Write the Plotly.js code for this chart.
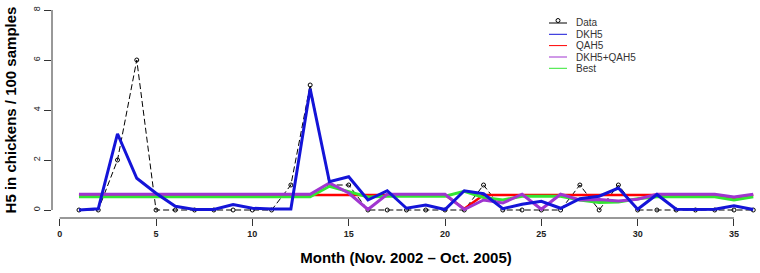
<!DOCTYPE html>
<html>
<head>
<meta charset="utf-8">
<script src="https://cdn.plot.ly/plotly-3.0.1.min.js"></script>
<style>html,body{margin:0;padding:0;background:#fff;}#chart{width:760px;height:273px;}</style>
</head>
<body>
<div id="chart"></div>
<script>
// ---- data ----
var months = [1,2,3,4,5,6,7,8,9,10,11,12,13,14,15,16,17,18,19,20,21,22,23,24,25,26,27,28,29,30,31,32,33,34,35,36];
var dataObs = [0,0,2,6,0,0,0,0,0,0,0,1,5,1,1,0,0,0,0,0,0,1,0,0,0,0,1,0,1,0,0,0,0,0,0,0];
var dkh5 = [0,0.05,3.05,1.27,0.67,0.15,0.02,0.02,0.22,0.07,0.04,0.04,4.85,1.13,1.33,0.4,0.77,0.07,0.2,0.02,0.77,0.65,0.05,0.23,0.35,0.07,0.45,0.55,0.88,0.03,0.62,0.03,0.02,0.03,0.17,0.02];
var qah5 = [0.6,0.6,0.6,0.6,0.6,0.6,0.6,0.6,0.6,0.6,0.6,0.6,0.6,0.6,0.6,0.6,0.6,0.6,0.6,0.6,0.05,0.6,0.6,0.6,0.6,0.6,0.6,0.6,0.6,0.6,0.6,0.6,0.6,0.6,0.47,0.6];
var dkh5qah5 = [0.63,0.63,0.63,0.63,0.63,0.63,0.63,0.63,0.63,0.63,0.63,0.63,0.63,1.08,0.68,0.02,0.63,0.63,0.63,0.63,0.02,0.4,0.28,0.63,0.03,0.63,0.4,0.42,0.36,0.43,0.63,0.63,0.63,0.63,0.52,0.63];
var best = [0.53,0.53,0.53,0.53,0.53,0.53,0.53,0.53,0.53,0.53,0.53,0.53,0.53,0.95,0.72,0.52,0.55,0.55,0.55,0.55,0.75,0.5,0.4,0.55,0.55,0.55,0.4,0.3,0.32,0.45,0.53,0.53,0.53,0.53,0.4,0.53];
var xTicks = [0,5,10,15,20,25,30,35];
var yTicks = [0,2,4,6,8];
var seriesNames = ["Data","DKH5","QAH5","DKH5+QAH5","Best"];
var seriesColors = ["#000000","#1414d8","#ff0000","#a035d0","#33e633"];

var FONT = "Liberation Sans, Arial, sans-serif";

var traces = [
  {x: months, y: dataObs, name: seriesNames[0], mode: "lines+markers",
   line: {color: seriesColors[0], width: 1, dash: "6px,3px"},
   marker: {symbol: "circle-open", size: 4, color: "#000", line: {width: 1, color: "#000"}}},
  {x: months, y: qah5, name: seriesNames[2], mode: "lines", line: {color: seriesColors[2], width: 2.5}},
  {x: months, y: best, name: seriesNames[4], mode: "lines", line: {color: seriesColors[4], width: 3}},
  {x: months, y: dkh5qah5, name: seriesNames[3], mode: "lines", line: {color: seriesColors[3], width: 3}},
  {x: months, y: dkh5, name: seriesNames[1], mode: "lines", line: {color: seriesColors[1], width: 3}}
];

// manual R-style legend
var L = 52, PW = 708, T = 2, PH = 216;
function px2x(p){ return (p - L) / PW; }
function py2y(p){ return (T + PH - p) / PH; }
var shapes = [
  {type: "line", xref: "x", yref: "paper", x0: xTicks[0], x1: xTicks[xTicks.length-1], y0: 0, y1: 0, line: {color: "#333", width: 1}},
  {type: "line", xref: "paper", yref: "y", x0: 0, x1: 0, y0: yTicks[0], y1: yTicks[yTicks.length-1], line: {color: "#333", width: 1}}
];
var annotations = [];
var rowY = [23, 34.3, 45.6, 57, 68.3];
for (var i = 0; i < seriesNames.length; i++) {
  shapes.push({type: "line", xref: "paper", yref: "paper", x0: px2x(549), x1: px2x(567), y0: py2y(rowY[i]), y1: py2y(rowY[i]),
    line: {color: seriesColors[i], width: 1}});
  annotations.push({xref: "paper", yref: "paper", x: px2x(574), y: py2y(rowY[i]), xanchor: "left", yanchor: "middle",
    text: seriesNames[i], showarrow: false, font: {family: FONT, size: 10, color: "#333"}});
}
shapes.push({type: "circle", xref: "paper", yref: "paper", x0: px2x(556), x1: px2x(560), y0: py2y(rowY[0]-4.5), y1: py2y(rowY[0]-0.5),
  line: {color: "#000", width: 1}, fillcolor: "#fff"});

var layout = {
  width: 760, height: 273,
  margin: {l: L, r: 0, t: T, b: 55, pad: 0},
  paper_bgcolor: "#fff", plot_bgcolor: "#fff",
  showlegend: false,
  font: {family: FONT, color: "#000"},
  xaxis: {range: [-0.4, 36.35], tickvals: xTicks, ticktext: xTicks.map(String), ticks: "outside", ticklen: 7, tickcolor: "#333",
    showgrid: false, zeroline: false, showline: false,
    tickfont: {family: FONT, size: 9, color: "#222", weight: "bold"},
    title: {text: "<b>Month (Nov. 2002 – Oct. 2005)</b>", font: {family: FONT, size: 15, color: "#000"}, standoff: 14}},
  yaxis: {range: [-0.32, 8.32], tickvals: yTicks, ticktext: yTicks.map(String), ticks: "outside", ticklen: 7, tickcolor: "#333",
    tickangle: -90, showgrid: false, zeroline: false, showline: false,
    tickfont: {family: FONT, size: 9, color: "#222"},
    title: {text: "<b>H5 in chickens / 100 samples</b>", font: {family: FONT, size: 15, color: "#000"}, standoff: 12}},
  shapes: shapes,
  annotations: annotations
};

Plotly.newPlot("chart", traces, layout, {displayModeBar: false, staticPlot: true});
</script>
</body>
</html>
